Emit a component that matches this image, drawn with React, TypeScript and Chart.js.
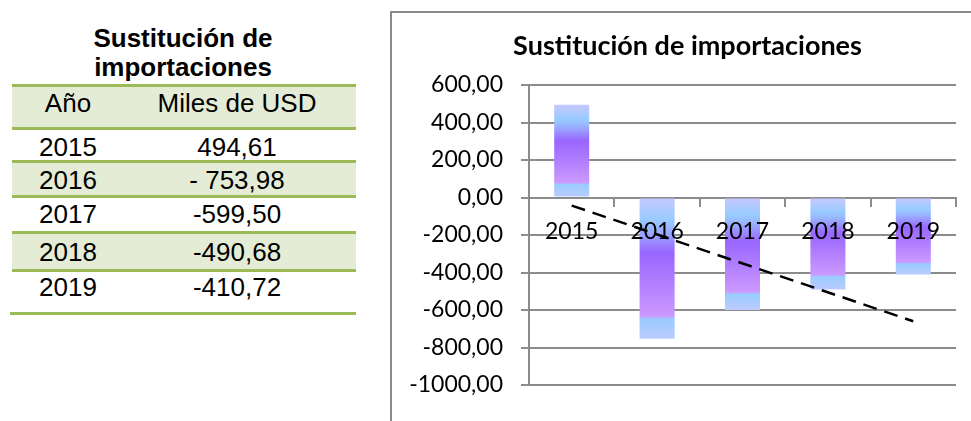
import React, { useEffect, useRef } from "react";
import { Chart, registerables } from "chart.js";

Chart.register(...registerables);

const chartTitle = "Sustitución de importaciones";
const years = ["2015", "2016", "2017", "2018", "2019"];
const values = [494.61, -753.98, -599.5, -490.68, -410.72];
const tableValueLabels = ["494,61", "- 753,98", "-599,50", "-490,68", "-410,72"];
// dashed linear trend line, end points
const trendValues: (number | null)[] = [-43, null, null, null, -660];
const yMin = -1000;
const yMax = 600;
const yStep = 200;

const GREEN_LINE = "#9bbb59";
const GREEN_BG = "#e4ecd6";
const GRID = "#8c8c8c";

function barGradient(ctx: any) {
  const chart = ctx.chart;
  if (!chart.chartArea || ctx.raw == null) return "#9966ff";
  const ys = chart.scales.y;
  const p0 = ys.getPixelForValue(0);
  const p1 = ys.getPixelForValue(ctx.raw);
  const top = Math.min(p0, p1);
  const bot = Math.max(p0, p1);
  if (bot - top < 1) return "#9966ff";
  const g = chart.ctx.createLinearGradient(0, top, 0, bot);
  g.addColorStop(0, "#c8c8ff");
  g.addColorStop(0.15, "#99ccff");
  g.addColorStop(0.21, "#99bbff");
  g.addColorStop(0.39, "#9966ff");
  g.addColorStop(0.84, "#cc99ff");
  g.addColorStop(0.86, "#99ccff");
  g.addColorStop(1, "#bccbff");
  return g;
}

function DataTable() {
  const rowLines = [85, 128, 161, 196, 232, 270];
  const baselines = [155.5, 188.6, 223, 261, 296.3];
  const greenRows = [
    { top: 85, bottom: 128 },
    { top: 161, bottom: 196 },
    { top: 232, bottom: 270 },
  ];
  const textStyle = (baseline: number, cx: number): React.CSSProperties => ({
    position: "absolute",
    top: baseline - 24,
    left: cx - 100,
    width: 200,
    textAlign: "center",
    fontFamily: "'Liberation Sans', Arial, sans-serif",
    fontSize: 26,
    lineHeight: "30px",
    color: "#000",
    whiteSpace: "pre",
  });
  return (
    <div style={{ position: "absolute", left: 0, top: 0, width: 380, height: 421 }}>
      <div
        style={{
          position: "absolute",
          left: 33,
          width: 300,
          top: 23.5,
          textAlign: "center",
          fontFamily: "'Liberation Sans', Arial, sans-serif",
          fontWeight: "bold",
          fontSize: 26,
          lineHeight: "29px",
          color: "#000",
        }}
      >
        Sustitución de
        <br />
        importaciones
      </div>
      {greenRows.map((r, i) => (
        <div
          key={"bg" + i}
          style={{ position: "absolute", left: 12, width: 344, top: r.top, height: r.bottom - r.top, background: GREEN_BG }}
        />
      ))}
      {rowLines.map((y, i) => (
        <div
          key={"ln" + i}
          style={{ position: "absolute", left: 12, width: 344, top: y - 1.5, height: 3, background: GREEN_LINE }}
        />
      ))}
      <div style={{ position: "absolute", left: 10, width: 346, top: 312, height: 3, background: GREEN_LINE }} />
      <div style={textStyle(112, 68)}>Año</div>
      <div style={textStyle(112, 237)}>Miles de USD</div>
      {years.map((yr, i) => (
        <React.Fragment key={yr}>
          <div style={textStyle(baselines[i], 68)}>{yr}</div>
          <div style={textStyle(baselines[i], 237)}>{tableValueLabels[i]}</div>
        </React.Fragment>
      ))}
    </div>
  );
}

export default function App() {
  const canvasRef = useRef<HTMLCanvasElement | null>(null);

  useEffect(() => {
    const canvas = canvasRef.current;
    if (!canvas) return;
    const chart = new Chart(canvas, {
      type: "bar",
      data: {
        labels: years,
        datasets: [
          {
            type: "line",
            label: "Tendencia",
            data: trendValues,
            borderColor: "#000000",
            borderWidth: 2.5,
            borderDash: [14, 8],
            pointRadius: 0,
            spanGaps: true,
            fill: false,
            order: 0,
          } as any,
          {
            type: "bar",
            label: chartTitle,
            data: values,
            backgroundColor: barGradient,
            borderWidth: 0,
            barPercentage: 0.41,
            categoryPercentage: 1,
            order: 1,
          } as any,
        ],
      },
      options: {
        responsive: false,
        animation: false,
        devicePixelRatio: 1,
        layout: { padding: { left: 0, right: 15, top: 0, bottom: 36 } },
        plugins: {
          legend: { display: false },
          tooltip: { enabled: false },
          title: {
            display: true,
            text: chartTitle,
            color: "#000",
            font: { family: "Lato", size: 27, weight: "bold", lineHeight: 1.2 },
            padding: { top: 17, bottom: 22.6 },
          },
        },
        scales: {
          x: {
            position: { y: 0 } as any,
            offset: true,
            afterFit: (s: any) => {
              s.height = 0;
            },
            grid: {
              display: true,
              offset: true,
              drawOnChartArea: false,
              drawTicks: true,
              tickLength: 8,
              color: GRID,
              lineWidth: 2,
            },
            border: { display: true, color: GRID, width: 2 },
            ticks: {
              z: 1,
              color: "#000",
              font: { family: "Lato", size: 23 },
              padding: 12,
              maxRotation: 0,
            },
          },
          y: {
            min: yMin,
            max: yMax,
            afterFit: (s: any) => {
              s.width = 137;
            },
            grid: {
              color: GRID,
              lineWidth: 2,
              drawTicks: true,
              tickLength: 8,
            },
            border: { display: true, color: GRID, width: 2 },
            ticks: {
              stepSize: yStep,
              color: "#000",
              font: { family: "Lato", size: 23 },
              padding: 18,
              callback: (v: any) => Number(v).toFixed(2).replace(".", ","),
            },
          },
          // empty right-hand spacer so the title centres as in the reference
          spacer: {
            type: "linear",
            position: "right",
            afterFit: (s: any) => {
              s.width = 27;
            },
            grid: { display: false, drawOnChartArea: false },
            border: { display: false },
            ticks: { display: false },
          } as any,
        },
      },
    });
    return () => chart.destroy();
  }, []);

  return (
    <div style={{ position: "fixed", left: 0, top: 0, width: 971, height: 421, background: "#fff", overflow: "hidden" }}>
      <DataTable />
      <div
        style={{
          position: "absolute",
          left: 390,
          top: 11,
          width: 620,
          height: 440,
          borderLeft: "2px solid #8a8a8a",
          borderTop: "2px solid #8a8a8a",
        }}
      />
      <canvas
        ref={canvasRef}
        width={606}
        height={408}
        style={{ position: "absolute", left: 392, top: 13, width: 606, height: 408 }}
      />
    </div>
  );
}
